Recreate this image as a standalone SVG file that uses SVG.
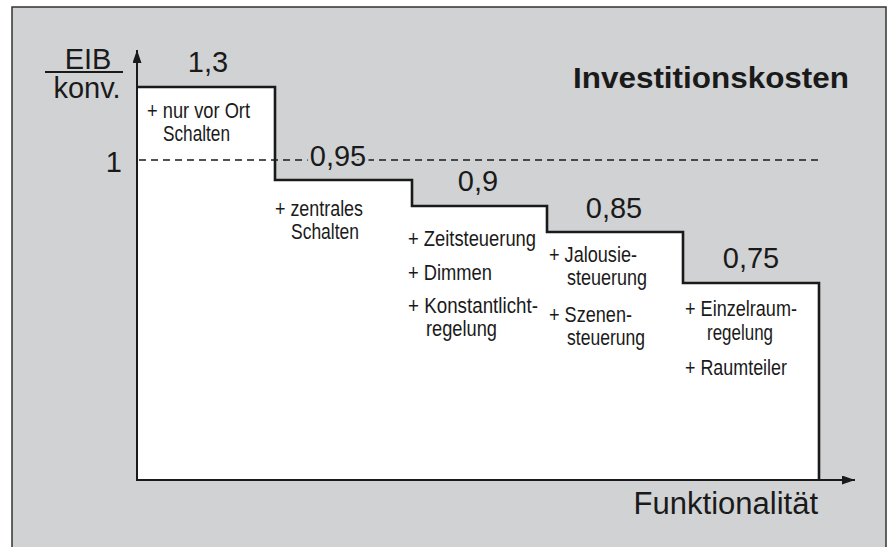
<svg xmlns="http://www.w3.org/2000/svg" width="893" height="547" viewBox="0 0 893 547">
  <defs>
    <marker id="arrow" viewBox="0 0 13 9" refX="13" refY="4.5" markerWidth="13" markerHeight="9" markerUnits="userSpaceOnUse" orient="auto">
      <path d="M0,0 L13,4.5 L0,9 z" fill="#1a1a1a"/>
    </marker>
    <style>
      .big { font-family: "Liberation Sans", Arial, sans-serif; font-size: 29px; fill: #1a1a1a; }
      .title { font-family: "Liberation Sans", Arial, sans-serif; font-size: 29px; font-weight: bold; fill: #1a1a1a; }
      .lbl { font-family: "Liberation Sans", Arial, sans-serif; font-size: 22px; fill: #1a1a1a; }
      .step { stroke: #1a1a1a; stroke-width: 2.6; fill: none; }
      .axis { stroke: #1a1a1a; stroke-width: 2; fill: none; }
    </style>
  </defs>

  <!-- panel background -->
  <rect x="12" y="7" width="874" height="545" fill="#d1d2d4" stroke="#333" stroke-width="1.5"/>

  <!-- stepped cost area -->
  <g id="steps">
    <path d="M137,87 H275 V180 H412 V206 H547 V232 H683 V283 H819 V480 H137 Z" fill="#ffffff"/>
    <path class="step" d="M137,87 H275 V180 H412 V206 H547 V232 H683 V283 H819 V480"/>
  </g>

  <!-- reference line at 1 -->
  <line x1="139" y1="160" x2="820" y2="160" stroke="#1a1a1a" stroke-width="1.6" stroke-dasharray="7,5"/>

  <!-- axes -->
  <g id="axes">
    <line class="axis" x1="137" y1="481" x2="137" y2="50" marker-end="url(#arrow)"/>
    <line class="axis" x1="136" y1="480" x2="855" y2="480" marker-end="url(#arrow)"/>
  </g>

  <!-- y-axis label -->
  <g id="y-label">
    <text class="big" x="88" y="68.5" text-anchor="middle">EIB</text>
    <line x1="45" y1="72" x2="123" y2="72" stroke="#1a1a1a" stroke-width="1.8"/>
    <text class="big" x="87" y="98" text-anchor="middle">konv.</text>
    <text class="big" x="122" y="172" text-anchor="end">1</text>
  </g>

  <text class="title" x="573" y="88" textLength="276" lengthAdjust="spacingAndGlyphs">Investitionskosten</text>
  <text class="big" x="818" y="514" text-anchor="end" style="font-size:31px">Funktionalität</text>

  <!-- step values -->
  <g id="values">
    <text class="big" x="208" y="72" text-anchor="middle">1,3</text>
    <text class="big" x="338" y="166" text-anchor="middle" style="paint-order:stroke" stroke="#d1d2d4" stroke-width="7">0,95</text>
    <text class="big" x="478" y="191" text-anchor="middle">0,9</text>
    <text class="big" x="614" y="218" text-anchor="middle">0,85</text>
    <text class="big" x="751" y="268" text-anchor="middle">0,75</text>
  </g>

  <!-- feature lists -->
  <g id="step1">
    <text class="lbl" x="147" y="118" textLength="103" lengthAdjust="spacingAndGlyphs">+ nur vor Ort</text>
    <text class="lbl" x="163" y="141" textLength="67" lengthAdjust="spacingAndGlyphs">Schalten</text>
  </g>
  <g id="step2">
    <text class="lbl" x="275" y="216" textLength="88" lengthAdjust="spacingAndGlyphs">+ zentrales</text>
    <text class="lbl" x="291" y="239" textLength="68" lengthAdjust="spacingAndGlyphs">Schalten</text>
  </g>
  <g id="step3">
    <text class="lbl" x="408" y="246" textLength="128" lengthAdjust="spacingAndGlyphs">+ Zeitsteuerung</text>
    <text class="lbl" x="408" y="280" textLength="84" lengthAdjust="spacingAndGlyphs">+ Dimmen</text>
    <text class="lbl" x="408" y="313" textLength="130" lengthAdjust="spacingAndGlyphs">+ Konstantlicht-</text>
    <text class="lbl" x="426" y="336" textLength="71" lengthAdjust="spacingAndGlyphs">regelung</text>
  </g>
  <g id="step4">
    <text class="lbl" x="549" y="262" textLength="88" lengthAdjust="spacingAndGlyphs">+ Jalousie-</text>
    <text class="lbl" x="567" y="285" textLength="80" lengthAdjust="spacingAndGlyphs">steuerung</text>
    <text class="lbl" x="549" y="322" textLength="83" lengthAdjust="spacingAndGlyphs">+ Szenen-</text>
    <text class="lbl" x="567" y="345" textLength="78" lengthAdjust="spacingAndGlyphs">steuerung</text>
  </g>
  <g id="step5">
    <text class="lbl" x="685" y="316" textLength="112" lengthAdjust="spacingAndGlyphs">+ Einzelraum-</text>
    <text class="lbl" x="707" y="340" textLength="66" lengthAdjust="spacingAndGlyphs">regelung</text>
    <text class="lbl" x="685" y="375" textLength="102" lengthAdjust="spacingAndGlyphs">+ Raumteiler</text>
  </g>
</svg>
